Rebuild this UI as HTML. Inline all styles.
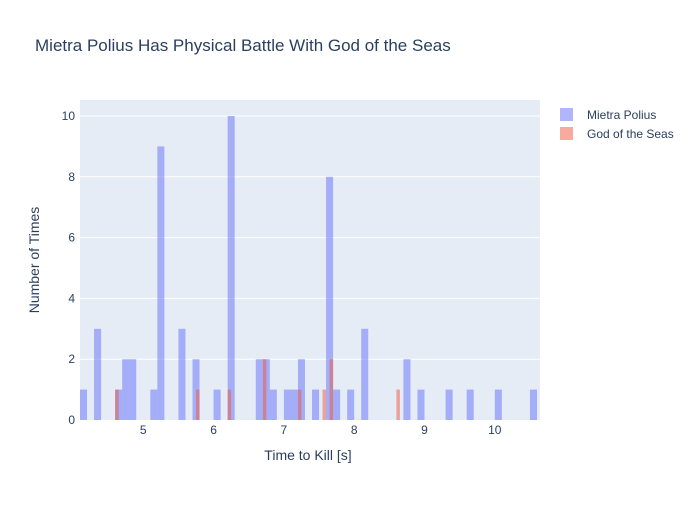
<!DOCTYPE html>
<html><head><meta charset="utf-8"><style>
body{margin:0;background:#fff;font-family:"Liberation Sans",sans-serif;}
text{font-family:"Liberation Sans",sans-serif;}
</style></head><body>
<svg width="700" height="500" xmlns="http://www.w3.org/2000/svg">
<rect width="700" height="500" fill="#fff"/>
<text x="35" y="51" font-size="17" fill="#2a3f5f">Mietra Polius Has Physical Battle With God of the Seas</text>
<rect x="80" y="100" width="460" height="320" fill="#e5ecf6"/>
<g id="grid"></g>
<g id="bars"></g>
<g id="axes"></g>
<text x="308" y="460" font-size="14" fill="#2a3f5f" text-anchor="middle">Time to Kill [s]</text>
<text transform="translate(39,260) rotate(-90)" font-size="14" fill="#2a3f5f" text-anchor="middle">Number of Times</text>
<g>
<rect x="560" y="108" width="13" height="13" fill="#636efa" opacity="0.5"/>
<text x="587" y="119" font-size="12" fill="#2a3f5f">Mietra Polius</text></g>
<g>
<rect x="560" y="127" width="13" height="13" fill="#EF553B" opacity="0.5"/>
<text x="587" y="138" font-size="12" fill="#2a3f5f">God of the Seas</text></g>
</svg>
<script>
const blueBinStarts=[4.1,4.3,4.6,4.7,4.8,5.1,5.2,5.5,5.7,6.0,6.2,6.6,6.7,6.8,7.0,7.1,7.2,7.4,7.6,7.7,7.9,8.1,8.7,8.9,9.3,9.6,10.0,10.5];
const blueCounts=[1,3,1,2,2,1,9,3,2,1,10,2,2,1,1,1,2,1,8,1,1,3,2,1,1,1,1,1];
const redBinStarts=[4.6,5.75,6.2,6.7,7.2,7.55,7.65,8.6];
const redCounts=[1,1,1,2,1,1,2,1];
const xTicks=[5,6,7,8,9,10];
const yTicks=[0,2,4,6,8,10];
const blueWidth=0.1, redWidth=0.05;
const X0=4.1,X1=10.6,PX0=80,PX1=537;
const x=v=>PX0+(v-X0)/(X1-X0)*(PX1-PX0);
const y=v=>420-v*30.4;
const NS="http://www.w3.org/2000/svg";
const grid=document.getElementById('grid'),bars=document.getElementById('bars'),axes=document.getElementById('axes');
yTicks.forEach(t=>{
 if(t>0){const l=document.createElementNS(NS,'line');
 l.setAttribute('x1',80);l.setAttribute('x2',540);l.setAttribute('y1',y(t));l.setAttribute('y2',y(t));
 l.setAttribute('stroke','#fff');l.setAttribute('stroke-width',1);
 
 
 grid.appendChild(l);}
 const tx=document.createElementNS(NS,'text');
 tx.setAttribute('x',75);tx.setAttribute('y',y(t)+4);tx.setAttribute('text-anchor','end');
 tx.setAttribute('font-size',12);tx.setAttribute('fill','#2a3f5f');tx.textContent=t;
 
 
 axes.appendChild(tx);
});
xTicks.forEach(t=>{
 const tx=document.createElementNS(NS,'text');
 tx.setAttribute('x',x(t));tx.setAttribute('y',434);tx.setAttribute('text-anchor','middle');
 tx.setAttribute('font-size',12);tx.setAttribute('fill','#2a3f5f');tx.textContent=t;
 
 
 axes.appendChild(tx);
});
function drawBars(starts,counts,w,color,name){
 starts.forEach((s,i)=>{
  const r=document.createElementNS(NS,'rect');
  r.setAttribute('x',x(s));r.setAttribute('width',x(s+w)-x(s));
  r.setAttribute('y',y(counts[i]));r.setAttribute('height',y(0)-y(counts[i]));
  r.setAttribute('fill',color);r.setAttribute('opacity',0.5);
  
  
  bars.appendChild(r);
 });
}
drawBars(blueBinStarts,blueCounts,blueWidth,'#636efa','mietra-bar');
drawBars(redBinStarts,redCounts,redWidth,'#EF553B','god-bar');
</script>
</body></html>
